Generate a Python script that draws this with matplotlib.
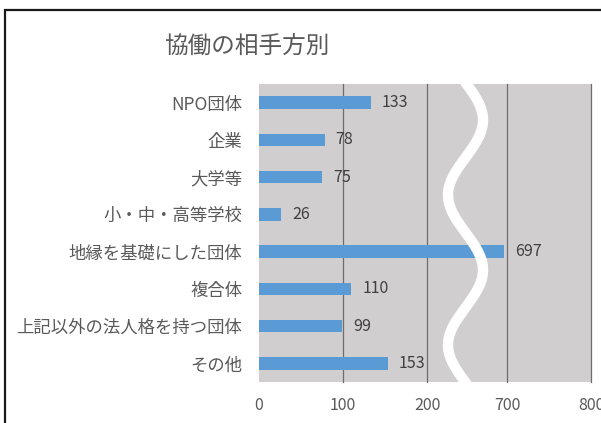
import numpy as np
import matplotlib
matplotlib.use("Agg")
import matplotlib.pyplot as plt
from matplotlib.patches import Rectangle

plt.rcParams['font.family'] = ['Noto Sans CJK JP', 'DejaVu Sans']

# --- data ---
categories = ["NPO団体", "企業", "大学等", "小・中・高等学校", "地縁を基礎にした団体",
              "複合体", "上記以外の法人格を持つ団体", "その他"]
counts = [133, 78, 75, 26, 697, 110, 99, 153]
tick_values = [0, 100, 200, 700, 800]
title = "協働の相手方別"

BAR = "#5B9BD5"
BG = "#D0CECE"
GRID = "#6E6E6E"
TXT = "#595959"
VAL = "#404040"

# broken axis: the span 250..655 is squeezed out
BREAK_LO, SHIFT = 250.0, 405.0


def fwd(v):
    v = np.asarray(v, dtype=float)
    return np.where(v <= BREAK_LO, v, np.maximum(v - SHIFT, BREAK_LO))


def inv(u):
    u = np.asarray(u, dtype=float)
    return np.where(u <= BREAK_LO, u, u + SHIFT)


W, H = 601, 423
fig = plt.figure(figsize=(W / 100, H / 100), dpi=100)
ax = fig.add_axes([259 / W, 1 - 382 / H, (591 - 259) / W, (382 - 84) / H])
ax.set_xscale('function', functions=(fwd, inv))
ax.set_facecolor(BG)

y = np.arange(len(categories))
ax.barh(y, counts, height=0.34, color=BAR, zorder=3)
for yi, c in zip(y, counts):
    ax.annotate(str(c), (c, yi), xytext=(8, 0), textcoords='offset points',
                va='center', ha='left', fontsize=11.5, color=VAL, zorder=5)

ax.set_xlim(0, 800)
ax.set_ylim(len(categories) - 0.5, -0.5)
ax.set_yticks(y)
ax.set_yticklabels(categories, fontsize=12.5, color=TXT)
ax.set_xticks(tick_values)
ax.set_xticklabels([str(t) for t in tick_values], fontsize=11.5, color=TXT)
ax.tick_params(length=0, axis='y', pad=12)
ax.tick_params(length=0, axis='x', pad=11)
for s in ax.spines.values():
    s.set_visible(False)

ax.xaxis.grid(True, color=GRID, lw=0.9, zorder=1)
ax.set_axisbelow(True)
gl = ax.get_xgridlines()
gl[0].set_visible(False)
for g in gl:
    g.set_clip_on(False)

# wavy break marker
py = np.linspace(80, 386, 300)
px = 465.5 + 17.5 * np.sin(2 * np.pi * (py - 82.5) / 150)
ax.plot((px - 259) / (591 - 259), (382 - py) / (382 - 84), transform=ax.transAxes,
        color='white', lw=7.5, solid_capstyle='butt', zorder=6, clip_on=False)

fig.text(247 / W, 1 - 46 / H, title, ha='center', va='center', fontsize=17, color=TXT)

# outer frame
fig.patches.append(Rectangle((5 / W, -0.05), 1.1, 1 - 10 / H + 0.05, transform=fig.transFigure,
                             fill=False, edgecolor='#1a1a1a', lw=1.6))

fig.savefig("out.png", dpi=100, facecolor='white')
